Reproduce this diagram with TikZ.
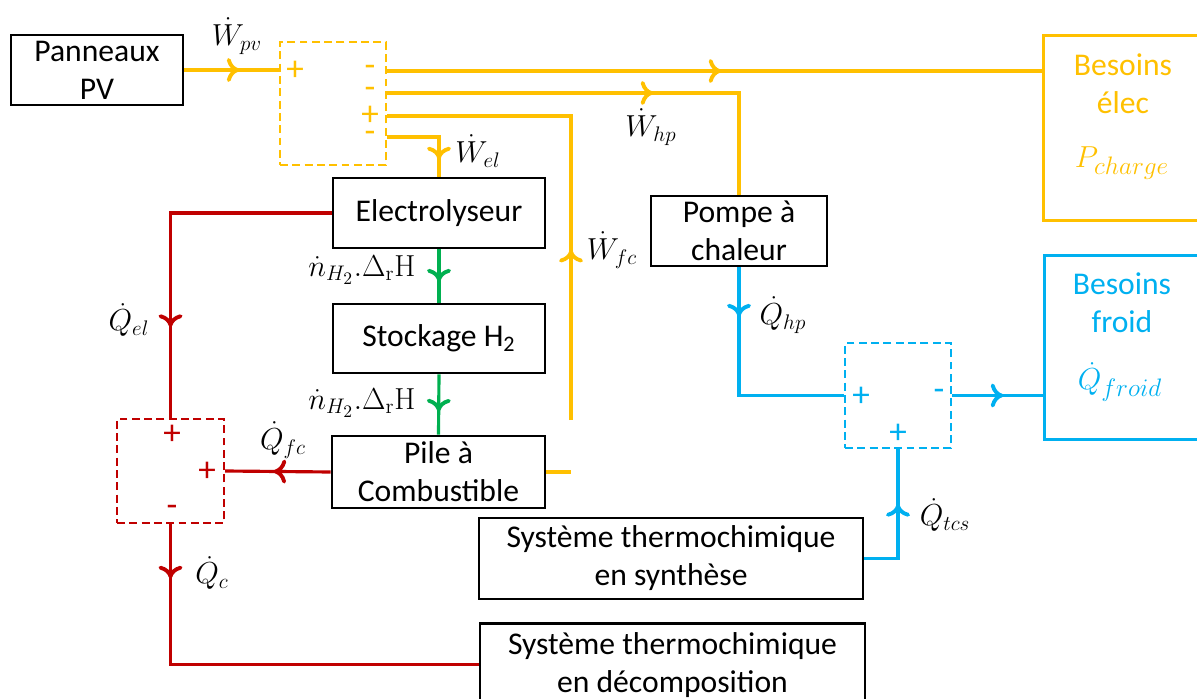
\documentclass[tikz,border=0pt]{standalone}
\usepackage[no-math]{fontspec}
\setmainfont{Carlito}
\usetikzlibrary{positioning, arrows.meta, decorations.markings, calc}
\DeclareMathSizes{17}{17}{13}{10}
\DeclareMathSizes{19}{19}{14}{11}
\definecolor{elecyellow}{HTML}{FFC000}
\definecolor{coldblue}{HTML}{00B0F0}
\definecolor{heatred}{HTML}{C00000}
\definecolor{hgreen}{HTML}{00B050}

\begin{document}
\begin{tikzpicture}[%
		x=0.02cm, y=-0.02cm,
		block/.style={
			rectangle,
			line width=1.5pt,
			black,
			align=center,
			inner sep=0pt,
			font=\fontsize{18}{21.6}\selectfont,
			draw
		},
		needbox/.style={
			rectangle,
			line width=1.7pt,
			anchor=north west,
			draw
		},
		needtext/.style={
			align=center,
			inner sep=0pt,
			font=\fontsize{18}{21.6}\selectfont
		},
		sumbox/.style={
			rectangle,
			line width=1.4pt,
			dash pattern=on 4.5pt off 2.5pt,
			inner sep=0pt
		},
		sign/.style={
			inner sep=1pt,
			font=\fontsize{20}{20}\selectfont
		},
		flux/.style={
			inner sep=1pt,
			font=\fontsize{17}{17}\selectfont
		},
		flowat/.style={
			decoration={markings,mark=at position #1 with {\arrow{Computer Modern Rightarrow[length=2.5mm,width=4.8mm,line width=2.2pt]}}},
			postaction={decorate}
		},
		yflow/.style={line width=1.8pt, elecyellow},
		gflow/.style={line width=1.8pt, hgreen},
		rflow/.style={line width=1.8pt, heatred},
		bflow/.style={line width=1.8pt, coldblue}]

		\useasboundingbox (0,0) rectangle (1197,699);
		\clip (0,0) rectangle (1197,699);

		% BLOCKS

		\node (pv) [block, minimum width=3.44cm, minimum height=1.4cm] at (97,70) {Panneaux\\PV};
		\node (elyz) [block, minimum width=4.24cm, minimum height=1.4cm] at (439,213) {Electrolyseur};
		\node (stock) [block, minimum width=4.24cm, minimum height=1.38cm] at (439,338.5) {Stockage H\textsubscript{2}};
		\node (fcell) [block, minimum width=4.26cm, minimum height=1.44cm] at (438.5,472) {Pile à\\Combustible};
		\node (hpump) [block, minimum width=3.52cm, minimum height=1.4cm] at (739,231) {Pompe à\\chaleur};
		\node (tcsyn) [block, minimum width=7.68cm, minimum height=1.62cm] at (671,558.5) {Système thermochimique\\en synthèse};
		\node (tcdec) [block, minimum width=7.7cm, minimum height=1.66cm, anchor=north] at (672.5,622) {Système thermochimique\\en décomposition};

		\node (elecneed) [needbox, elecyellow, minimum width=3.4cm, minimum height=3.7cm] at (1042,34) {};
		\node (electxt) [needtext, elecyellow] at (1123,84) {Besoins\\élec};
		\node (pchg) [flux, elecyellow, font=\fontsize{19}{19}\selectfont] at (1122,163) {$P_{charge}$};
		\node (coldneed) [needbox, coldblue, minimum width=3.4cm, minimum height=3.68cm] at (1043,254) {};
		\node (coldtxt) [needtext, coldblue] at (1122,302.5) {Besoins\\froid};
		\node (qfroid) [flux, coldblue, font=\fontsize{19}{19}\selectfont] at (1120,382) {$\dot{Q}_{froid}$};

		% SUMMING BOXES

		\node (ysum) [sumbox, draw=elecyellow, minimum width=2.12cm, minimum height=2.46cm] at (333,103.5) {};
		\node (rsum) [sumbox, draw=heatred, minimum width=2.14cm, minimum height=2.08cm] at (170.5,471) {};
		\node (bsum) [sumbox, draw=coldblue, minimum width=2.12cm, minimum height=2.1cm] at (898,395.5) {};

		\node (ys-in) [sign, elecyellow] at (295,71) {+};
		\foreach \y/\s in {71/-, 93/-, 116/+, 137/-}
			\node (ys-\y) [sign, elecyellow] at (370,\y) {\s};
		\node (rs-top) [sign, heatred] at (172,435) {+};
		\node (rs-fc) [sign, heatred] at (207,472) {+};
		\node (rs-out) [sign, heatred] at (172,511) {-};
		\node (bs-hp) [sign, coldblue] at (861,397) {+};
		\node (bs-out) [sign, coldblue] at (939,395) {-};
		\node (bs-tcs) [sign, coldblue] at (898,434) {+};

		\coordinate (yin) at (ysum.west |- pv.east);
		\coordinate (yo1) at (ysum.east |- 0,71);
		\coordinate (yo2) at (ysum.east |- 0,93);
		\coordinate (yo3) at (ysum.east |- 0,116);
		\coordinate (yo4) at (ysum.east |- 0,137);
		\coordinate (fcup) at (571,420);
		\coordinate (fcout) at (571,472);

		% ELECTRIC LINES

		\draw[yflow, flowat=1.1cm] (pv.east) -- (yin);
		\draw[yflow, flowat=6.68cm] (yo1) -- (elecneed.west |- yo1);
		\draw[yflow, flowat=5.32cm] (yo2) -| (hpump.north);
		\draw[yflow, flowat=1.48cm] (yo4) -| (elyz.north);
		\draw[yflow, flowat=3.4cm] (fcup) |- (yo3);
		\draw[yflow] (fcell.east) -- (fcout);

		% HYDROGEN LINES

		\draw[gflow, flowat=0.64cm] (elyz.south) -- (stock.north);
		\draw[gflow, flowat=0.74cm] (stock.south) -- (fcell.north);

		% HEAT LINES

		\draw[rflow, flowat=5.5cm] (elyz.west) -| (rsum.north);
		\draw[rflow, flowat=1.14cm] (fcell.west) -- (rsum.east);
		\draw[rflow, flowat=1.08cm] (rsum.south) |- (tcdec.west);

		% COLD LINES

		\draw[bflow, flowat=0.98cm] (hpump.south) |- (bsum.west);
		\draw[bflow, flowat=1.76cm] (tcsyn.east) -| (bsum.south);
		\draw[bflow, flowat=1.02cm] (bsum.east) -- (coldneed.west |- bsum.east);

		% FLUX LABELS

		\node (lpv) [flux] at (237,36) {$\dot{W}_{pv}$};
		\node (lhp) [flux] at (651,127) {$\dot{W}_{hp}$};
		\node (lel) [flux] at (478,151) {$\dot{W}_{el}$};
		\node (lfc) [flux] at (612,250) {$\dot{W}_{fc}$};
		\node (lh1) [flux] at (362,270) {$\dot{n}_{H_2}.\Delta_{\mathrm{r}}\mathrm{H}$};
		\node (lh2) [flux] at (362,403) {$\dot{n}_{H_2}.\Delta_{\mathrm{r}}\mathrm{H}$};
		\node (lqel) [flux] at (129,320) {$\dot{Q}_{el}$};
		\node (lqfc) [flux] at (283,440) {$\dot{Q}_{fc}$};
		\node (lqc) [flux] at (212,573) {$\dot{Q}_{c}$};
		\node (lqhp) [flux] at (783,315) {$\dot{Q}_{hp}$};
		\node (lqtcs) [flux] at (945,515) {$\dot{Q}_{tcs}$};
\end{tikzpicture}
\end{document}
